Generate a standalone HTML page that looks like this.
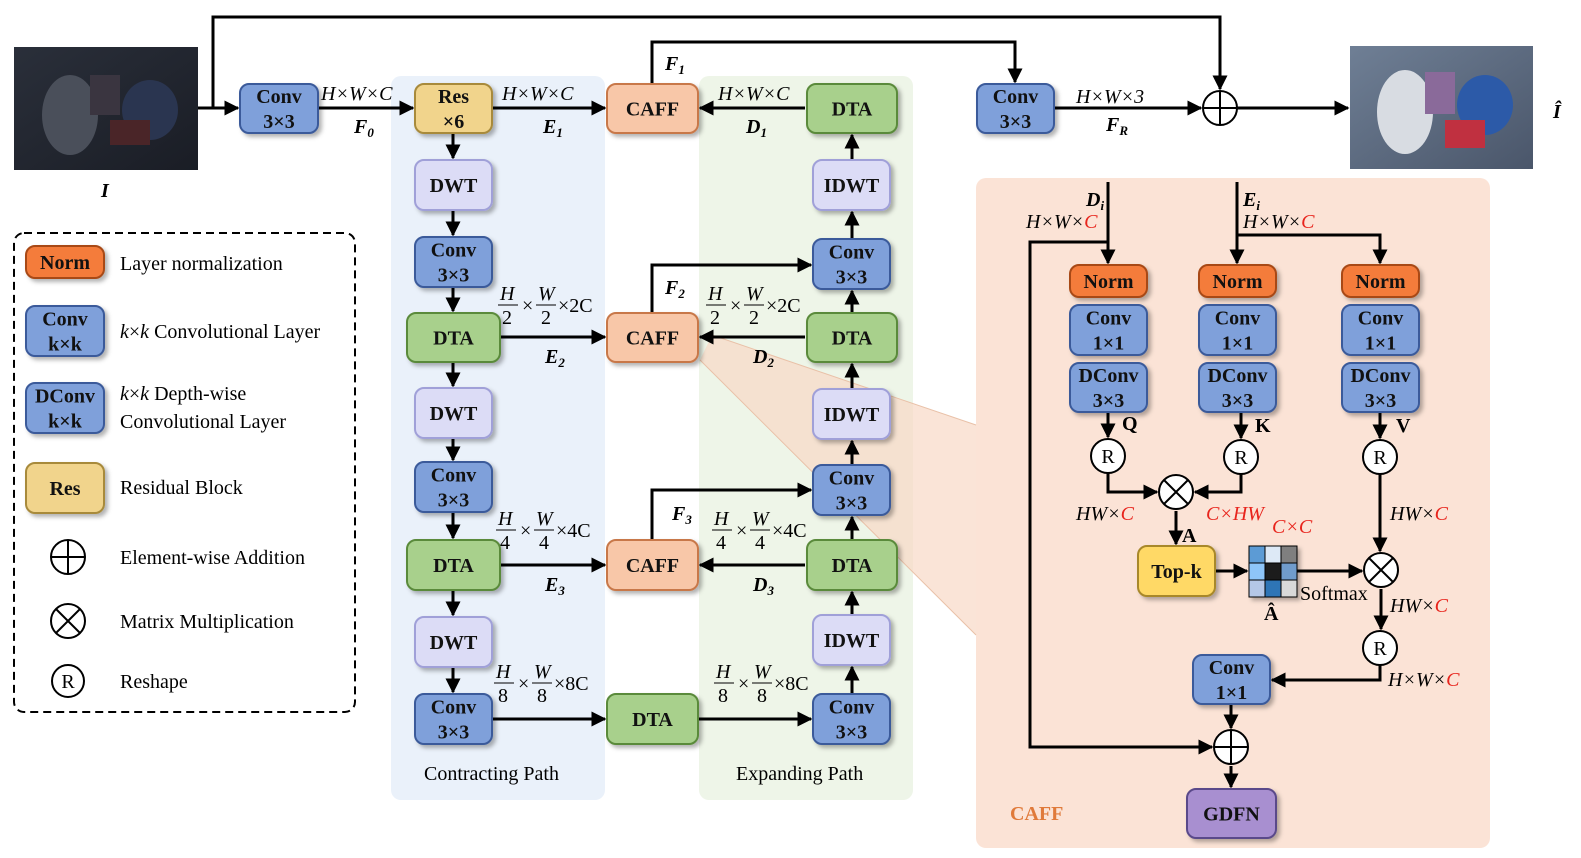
<!DOCTYPE html>
<html><head><meta charset="utf-8"><style>
html,body{margin:0;padding:0;background:#fff}
svg{display:block;font-family:"Liberation Serif",serif}
</style></head><body>
<svg id="s" width="1581" height="858" viewBox="0 0 1581 858" xmlns="http://www.w3.org/2000/svg">
<defs>
<marker id="ah" viewBox="0 0 10 10" refX="9" refY="5" markerWidth="5" markerHeight="5" orient="auto"><path d="M0,0 L10,5 L0,10 z" fill="#000"/></marker>
<filter id="sh" x="-20%" y="-20%" width="150%" height="150%"><feDropShadow dx="3" dy="3" stdDeviation="2" flood-color="#000" flood-opacity="0.3"/></filter>
<linearGradient id="img1" x1="0" y1="0" x2="1" y2="1"><stop offset="0" stop-color="#2a2f3a"/><stop offset="1" stop-color="#1a1d25"/></linearGradient>
<linearGradient id="img2" x1="0" y1="0" x2="1" y2="1"><stop offset="0" stop-color="#6f7f95"/><stop offset="1" stop-color="#4a566a"/></linearGradient>
</defs>
<rect x="391" y="76" width="214" height="724" rx="10" fill="#eaf1fa"/>
<rect x="699" y="76" width="214" height="724" rx="10" fill="#eef5e8"/>
<rect x="976" y="178" width="514" height="670" rx="10" fill="#fbe3d6"/>
<polygon points="712,335 976,425 976,635 700,360" fill="#f8d9c6" opacity="0.7"/>
<line x1="712" y1="335" x2="976" y2="425" stroke="#e9c1a8" stroke-width="1"/>
<line x1="700" y1="360" x2="976" y2="635" stroke="#e9c1a8" stroke-width="1"/>
<g>
<rect x="14" y="47" width="184" height="123" fill="url(#img1)"/>
<ellipse cx="70" cy="115" rx="28" ry="40" fill="#4a4f5a"/><rect x="90" y="75" width="30" height="40" fill="#3a3540"/><ellipse cx="150" cy="110" rx="28" ry="30" fill="#2a3550"/><rect x="110" y="120" width="40" height="25" fill="#4a2528"/>
</g>
<g>
<rect x="1350" y="46" width="183" height="123" fill="url(#img2)"/>
<ellipse cx="1405" cy="112" rx="28" ry="42" fill="#d8dce2"/><rect x="1425" y="72" width="30" height="42" fill="#8a6a9a"/><ellipse cx="1485" cy="105" rx="28" ry="30" fill="#2c5aa8"/><rect x="1445" y="120" width="40" height="28" fill="#c03040"/>
</g>
<g id="lines" stroke="#000" stroke-width="3" fill="none"></g>
<g id="boxes"></g>
<g id="texts" font-size="20" font-style="italic"></g>
<rect x="14" y="233" width="341" height="479" rx="10" fill="none" stroke="#000" stroke-width="2" stroke-dasharray="8,5"/>
</svg>
<script>
const NS="http://www.w3.org/2000/svg";
const S=document.getElementById('s'),L=document.getElementById('lines'),B=document.getElementById('boxes'),T=document.getElementById('texts');
const C={conv:['#7fa0da','#3a5a9a'],res:['#f1d48c','#a88a3a'],caff:['#f8c7a8','#c8784a'],dta:['#a8d08c','#5a8a3a'],dwt:['#dcdcf6','#a0a0d8'],norm:['#f47b3a','#a84a18'],topk:['#ffd966','#a8882a'],gdfn:['#a88fd0','#5a4a8a']};
function el(tag,attrs,parent){const e=document.createElementNS(NS,tag);for(const k in attrs)e.setAttribute(k,attrs[k]);parent.appendChild(e);return e;}
function box(x,y,w,h,type,lines,name){
 const g=el('g',{},B);
 
 
 el('rect',{x:x,y:y,width:w,height:h,rx:9,fill:C[type][0],stroke:C[type][1],'stroke-width':2,filter:'url(#sh)'},g);
 const n=lines.length;
 lines.forEach((t,i)=>{const tx=el('text',{x:x+w/2,y:y+h/2+7+(i-(n-1)/2)*25,'text-anchor':'middle','font-weight':'bold','font-size':20,fill:'#111'},g);tx.textContent=t;});
}
function ln(d,arrow){const p=el('path',{d:d},L);if(arrow)p.setAttribute('marker-end','url(#ah)');}
function circ(cx,cy,r,kind,name){
 const g=el('g',{},B);
 
 
 el('circle',{cx:cx,cy:cy,r:r,fill:'#fff',stroke:'#000','stroke-width':2},g);
 if(kind=='+'){el('path',{d:`M${cx-r},${cy}H${cx+r}M${cx},${cy-r}V${cy+r}`,stroke:'#000','stroke-width':2},g);}
 else if(kind=='x'){const d=r*0.707;el('path',{d:`M${cx-d},${cy-d}L${cx+d},${cy+d}M${cx+d},${cy-d}L${cx-d},${cy+d}`,stroke:'#000','stroke-width':2},g);}
 else{const t=el('text',{x:cx,y:cy+7,'text-anchor':'middle','font-size':20},g);t.textContent='R';}
}
function tx(x,y,s,opt){const t=el('text',{x:x,y:y},T);opt=opt||{};for(const k in opt)t.setAttribute(k,opt[k]);t.innerHTML=s;return t;}

// main lines
ln('M198,108 H238',1);ln('M213,108 V17 H1220 V89',1);
ln('M318,108 H413',1);ln('M492,108 H605',1);ln('M805,108 H700',1);
ln('M652,84 V42 H1015 V82',1);ln('M1054,108 H1201',1);ln('M1237,108 H1348',1);
ln('M453,133 V158',1);ln('M453,210 V235',1);ln('M453,287 V311',1);ln('M453,362 V386',1);ln('M453,438 V460',1);ln('M453,512 V538',1);ln('M453,590 V615',1);ln('M453,667 V692',1);
ln('M500,337 H605',1);ln('M500,565 H605',1);ln('M492,719 H605',1);ln('M698,719 H811',1);
ln('M805,337 H700',1);ln('M805,565 H700',1);
ln('M652,313 V265 H811',1);ln('M652,540 V490 H811',1);
ln('M852,694 V667',1);ln('M852,615 V592',1);ln('M852,540 V517',1);ln('M852,465 V441',1);ln('M852,389 V364',1);ln('M852,313 V291',1);ln('M852,239 V212',1);ln('M852,160 V135',1);

// CAFF internal lines
ln('M1108,182 V263',1);ln('M1237,182 V263',1);ln('M1237,235 H1380 V263',1);
ln('M1108,242 H1030 V747 H1212',1);
ln('M1108,412 V437',1);ln('M1241,412 V438',1);ln('M1380,412 V438',1);
ln('M1108,473 V492 H1157',1);ln('M1241,474 V492 H1195',1);ln('M1176,511 V544',1);
ln('M1215,571 H1247',1);ln('M1297,571 H1362',1);ln('M1380,474 V551',1);ln('M1381,589 V629',1);
ln('M1380,665 V680 H1272',1);ln('M1231,704 V728',1);ln('M1231,766 V787',1);

box(240,84,78,49,'conv',['Conv','3×3'],'conv-in');
box(415,84,77,49,'res',['Res','×6'],'res-block');
box(607,84,91,49,'caff',['CAFF'],'caff-1');
box(807,84,90,49,'dta',['DTA'],'dta-d1');
box(977,84,77,49,'conv',['Conv','3×3'],'conv-out');
circ(1220,108,17,'+','add-output');
box(415,160,77,50,'dwt',['DWT'],'dwt-1');box(813,160,77,50,'dwt',['IDWT'],'idwt-1');
box(415,237,77,50,'conv',['Conv','3×3'],'conv-e2');box(813,239,77,50,'conv',['Conv','3×3'],'conv-d2');
box(407,313,93,49,'dta',['DTA'],'dta-e2');box(607,313,91,49,'caff',['CAFF'],'caff-2');box(807,313,90,49,'dta',['DTA'],'dta-d2');
box(415,388,77,50,'dwt',['DWT'],'dwt-2');box(813,389,77,50,'dwt',['IDWT'],'idwt-2');
box(415,462,77,50,'conv',['Conv','3×3'],'conv-e3');box(813,465,77,50,'conv',['Conv','3×3'],'conv-d3');
box(407,540,93,50,'dta',['DTA'],'dta-e3');box(607,540,91,50,'caff',['CAFF'],'caff-3');box(807,540,90,50,'dta',['DTA'],'dta-d3');
box(415,617,77,50,'dwt',['DWT'],'dwt-3');box(813,615,77,50,'dwt',['IDWT'],'idwt-3');
box(415,694,77,50,'conv',['Conv','3×3'],'conv-e4');box(607,694,91,50,'dta',['DTA'],'dta-bottleneck');box(813,694,77,50,'conv',['Conv','3×3'],'conv-d4');

// CAFF internal boxes
[[1070,'q'],[1199,'k'],[1342,'v']].forEach(([x,n])=>{
 box(x,265,77,32,'norm',['Norm'],'norm-'+n);
 box(x,305,77,50,'conv',['Conv','1×1'],'conv1x1-'+n);
 box(x,363,77,49,'conv',['DConv','3×3'],'dconv-'+n);
});
circ(1108,456,17,'R','reshape-q');circ(1241,457,17,'R','reshape-k');circ(1380,457,17,'R','reshape-v');
circ(1176,492,17,'x','matmul-qk');circ(1381,570,17,'x','matmul-av');circ(1380,648,17,'R','reshape-out');
box(1138,546,77,50,'topk',['Top-k'],'topk-box');
box(1193,655,77,49,'conv',['Conv','1×1'],'conv1x1-out');
circ(1231,747,17,'+','add-residual');
box(1187,789,89,49,'gdfn',['GDFN'],'gdfn-box');
// matrix
const mc=['#5b9bd5','#dde9f6','#7f7f7f','#8ec5f8','#1a1a1a','#6f9ccc','#b4c7e7','#2e75b6','#d9d9d9'];
const mg=el('g',{filter:'url(#sh)'},B);


mc.forEach((c,i)=>el('rect',{x:1249+(i%3)*16,y:546+Math.floor(i/3)*17,width:16,height:17,fill:c,stroke:'#000','stroke-width':1},mg));

// legend
box(26,246,78,32,'norm',['Norm'],'legend-norm');
box(26,306,78,50,'conv',['Conv','k×k'],'legend-conv');
box(26,383,78,50,'conv',['DConv','k×k'],'legend-dconv');
box(26,463,78,50,'res',['Res'],'legend-res');
circ(68,557,17,'+','legend-add');circ(68,621,17,'x','legend-matmul');circ(68,681,16,'R','legend-reshape');
const up={'font-style':'normal'};
tx(120,270,'Layer normalization',up);tx(120,338,'<tspan font-style="italic">k</tspan>×<tspan font-style="italic">k</tspan> Convolutional Layer',up);
tx(120,400,'<tspan font-style="italic">k</tspan>×<tspan font-style="italic">k</tspan> Depth-wise',up);tx(120,428,'Convolutional Layer',up);
tx(120,494,'Residual Block',up);tx(120,564,'Element-wise Addition',up);tx(120,628,'Matrix Multiplication',up);tx(120,688,'Reshape',up);
tx(424,780,'Contracting Path',up);tx(736,780,'Expanding Path',up);
// labels
tx(101,197,'I',{'font-weight':'bold'});tx(1553,118,'Î',{'font-weight':'bold'});
tx(321,100,'H×W×C');tx(354,133,'F<tspan font-size="13" dy="4">0</tspan>',{'font-weight':'bold'});
tx(502,100,'H×W×C');tx(543,133,'E<tspan font-size="13" dy="4">1</tspan>',{'font-weight':'bold'});
tx(718,100,'H×W×C');tx(746,133,'D<tspan font-size="13" dy="4">1</tspan>',{'font-weight':'bold'});
tx(665,70,'F<tspan font-size="13" dy="4">1</tspan>',{'font-weight':'bold'});
tx(1076,103,'H×W×3');tx(1106,131,'F<tspan font-size="13" dy="4">R</tspan>',{'font-weight':'bold'});
tx(665,294,'F<tspan font-size="13" dy="4">2</tspan>',{'font-weight':'bold'});tx(672,520,'F<tspan font-size="13" dy="4">3</tspan>',{'font-weight':'bold'});
tx(545,363,'E<tspan font-size="13" dy="4">2</tspan>',{'font-weight':'bold'});tx(753,363,'D<tspan font-size="13" dy="4">2</tspan>',{'font-weight':'bold'});
tx(545,591,'E<tspan font-size="13" dy="4">3</tspan>',{'font-weight':'bold'});tx(753,591,'D<tspan font-size="13" dy="4">3</tspan>',{'font-weight':'bold'});
function frac(x,y,d,k){tx(x,y,'H');tx(x+2,y+24,d,up);el('line',{x1:x-2,y1:y+5,x2:x+18,y2:y+5,stroke:'#000','stroke-width':1},T);
 tx(x+22,y+12,'×',up);tx(x+38,y,'W');tx(x+41,y+24,d,up);el('line',{x1:x+36,y1:y+5,x2:x+56,y2:y+5,stroke:'#000','stroke-width':1},T);tx(x+58,y+12,'×'+k,up);}
frac(500,300,'2','2C');frac(708,300,'2','2C');frac(498,525,'4','4C');frac(714,525,'4','4C');frac(496,678,'8','8C');frac(716,678,'8','8C');
// CAFF labels
const red='#e8241c';
tx(1086,206,'D<tspan font-size="13" dy="4">i</tspan>',{'font-weight':'bold'});tx(1243,206,'E<tspan font-size="13" dy="4">i</tspan>',{'font-weight':'bold'});
tx(1026,228,'H×W×<tspan fill="'+red+'">C</tspan>');tx(1243,228,'H×W×<tspan fill="'+red+'">C</tspan>');
tx(1122,430,'Q',{'font-weight':'bold','font-style':'normal'});tx(1255,432,'K',{'font-weight':'bold','font-style':'normal'});tx(1396,432,'V',{'font-weight':'bold','font-style':'normal'});
tx(1076,520,'HW×<tspan fill="'+red+'">C</tspan>');tx(1206,520,'C×HW',{fill:red});tx(1272,533,'C×C',{fill:red});
tx(1182,542,'A',{'font-weight':'bold','font-style':'normal'});tx(1264,620,'Â',{'font-weight':'bold','font-style':'normal'});
tx(1300,600,'Softmax',up);tx(1390,520,'HW×<tspan fill="'+red+'">C</tspan>');tx(1390,612,'HW×<tspan fill="'+red+'">C</tspan>');
tx(1388,686,'H×W×<tspan fill="'+red+'">C</tspan>');
tx(1010,820,'CAFF',{'font-weight':'bold','font-style':'normal',fill:'#e07a3a'});
</script>
</body></html>
